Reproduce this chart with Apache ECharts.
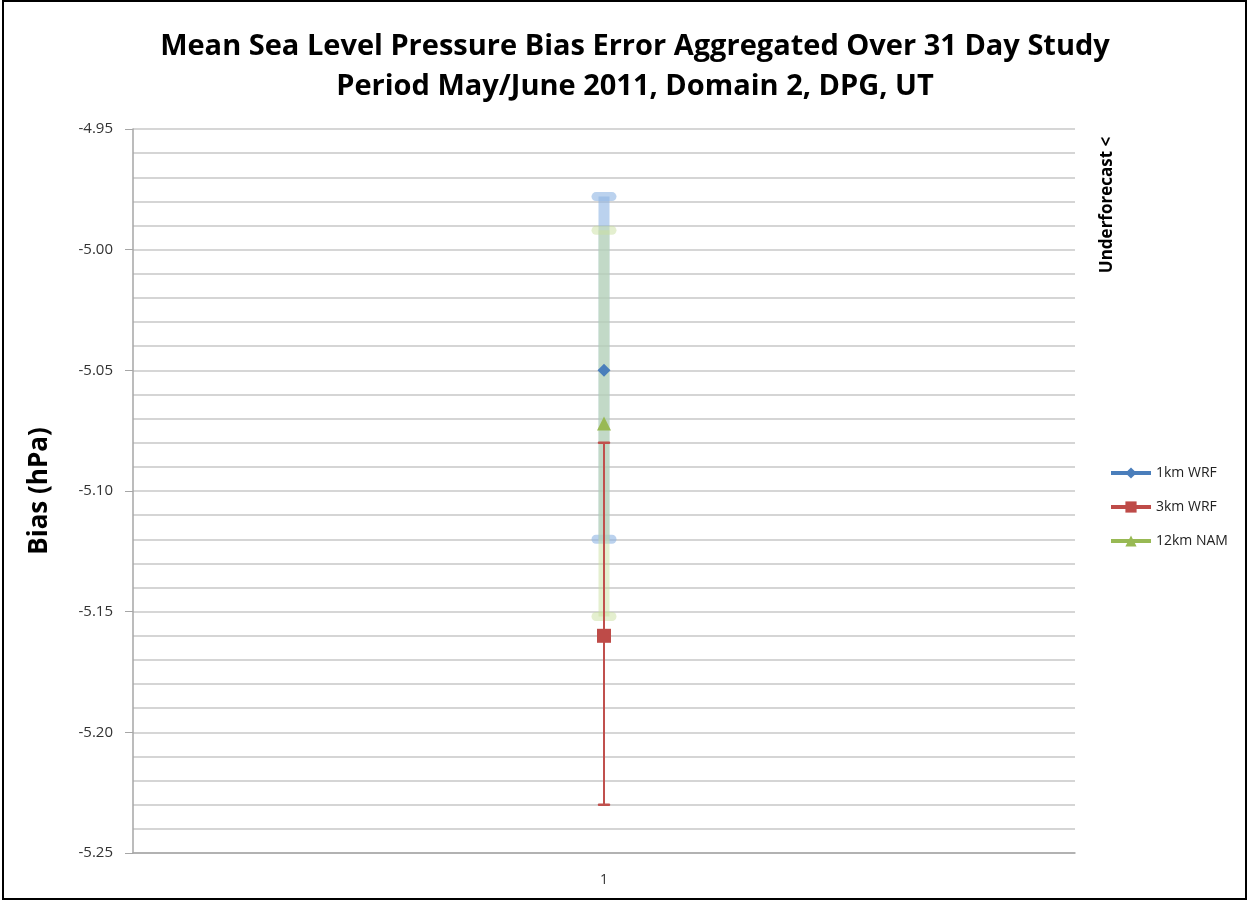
<!DOCTYPE html>
<html>
<head>
<meta charset="utf-8">
<script src="https://cdn.jsdelivr.net/npm/echarts@6/dist/echarts.min.js"></script>
<style>html,body{margin:0;padding:0;background:#fff}#c{width:1249px;height:901px}</style>
</head>
<body>
<div id="c"></div>
<script>
// ---- data ----
var categories = ['1'];
var seriesNames = ['1km WRF', '3km WRF', '12km NAM'];
var values1km = [-5.05];
var values3km = [-5.16];
var values12km = [-5.072];
var errLow = [-5.12, -5.23, -5.152];
var errHigh = [-4.978, -5.08, -4.992];
var yTicks = { min: -5.25, max: -4.95, interval: 0.05 };

var chart = echarts.init(document.getElementById('c'));
var FONT = '"Open Sans", "DejaVu Sans", sans-serif';

function errSeries(idx, color, lineW, capW, capLW, z) {
  return {
    type: 'custom',
    z: z,
    silent: true,
    data: [[0, errLow[idx], errHigh[idx]]],
    renderItem: function (params, api) {
      var x = api.value(0);
      var lo = api.coord([x, api.value(1)]);
      var hi = api.coord([x, api.value(2)]);
      var cx = lo[0];
      return {
        type: 'group',
        children: [
          { type: 'line', shape: { x1: cx, y1: hi[1], x2: cx, y2: lo[1] },
            style: { stroke: color, lineWidth: lineW, lineCap: 'butt' } },
          { type: 'line', shape: { x1: cx - capW / 2, y1: hi[1], x2: cx + capW / 2, y2: hi[1] },
            style: { stroke: color, lineWidth: capLW, lineCap: 'round' } },
          { type: 'line', shape: { x1: cx - capW / 2, y1: lo[1], x2: cx + capW / 2, y2: lo[1] },
            style: { stroke: color, lineWidth: capLW, lineCap: 'round' } }
        ]
      };
    }
  };
}

var option = {
  animation: false,
  backgroundColor: '#fff',
  title: {
    text: 'Mean Sea Level Pressure Bias Error Aggregated Over 31 Day Study\nPeriod May/June 2011, Domain 2, DPG, UT',
    left: 630, top: 22, textAlign: 'center',
    textStyle: { fontFamily: FONT, fontWeight: 'bold', fontSize: 29, lineHeight: 40, color: '#000' }
  },
  legend: {
    data: seriesNames,
    orient: 'vertical',
    left: 1104, top: 461,
    itemWidth: 40, itemHeight: 14, itemGap: 20,
    lineStyle: { width: 4 },
    textStyle: { fontFamily: FONT, fontSize: 14, color: '#222' }
  },
  grid: { left: 133, right: 174, top: 129, bottom: 48, containLabel: false },
  xAxis: {
    type: 'category',
    data: categories,
    axisLine: { lineStyle: { color: '#a6a6a6', width: 1.5 } },
    axisTick: { show: false },
    axisLabel: { fontFamily: FONT, fontSize: 14, color: '#333', margin: 20 }
  },
  yAxis: {
    type: 'value',
    min: yTicks.min, max: yTicks.max, interval: yTicks.interval,
    name: 'Bias (hPa)',
    nameLocation: 'middle', nameGap: 80,
    nameTextStyle: { fontFamily: FONT, fontWeight: 'bold', fontSize: 26, color: '#000' },
    axisLine: { show: true, lineStyle: { color: '#a6a6a6', width: 1.5 } },
    axisTick: { show: true, length: 8, lineStyle: { color: '#a6a6a6' } },
    minorTick: { show: false, splitNumber: 5 },
    minorSplitLine: { show: true, lineStyle: { color: '#c8c8c8', width: 1.5 } },
    splitLine: { show: true, lineStyle: { color: '#c8c8c8', width: 1.5 } },
    axisLabel: { fontFamily: FONT, fontSize: 15, color: '#333', margin: 20,
      formatter: function (v) { return v.toFixed(2); } }
  },
  series: [
    errSeries(0, 'rgba(142,180,227,0.6)', 11, 16, 9, 2),
    errSeries(2, 'rgba(201,223,159,0.5)', 11, 16, 9, 3),
    errSeries(1, '#c0504d', 2, 10, 2.5, 4),
    { name: seriesNames[0], type: 'line', data: values1km, z: 10,
      symbol: 'diamond', symbolSize: 13,
      itemStyle: { color: '#4a7ebb' }, lineStyle: { color: '#4a7ebb', width: 3 } },
    { name: seriesNames[1], type: 'line', data: values3km, z: 10,
      symbol: 'rect', symbolSize: 14,
      itemStyle: { color: '#be4b48' }, lineStyle: { color: '#be4b48', width: 3 } },
    { name: seriesNames[2], type: 'line', data: values12km, z: 10,
      symbol: 'triangle', symbolSize: 14,
      itemStyle: { color: '#98b954' }, lineStyle: { color: '#98b954', width: 3 } }
  ],
  graphic: [
    { type: 'rect', shape: { x: 3, y: 1, width: 1243, height: 898 },
      style: { fill: 'none', stroke: '#000', lineWidth: 2 }, silent: true },
    { type: 'text', x: 1107, y: 205, rotation: Math.PI / 2,
      style: { text: 'Underforecast <', fontFamily: FONT, fontWeight: 'bold', fontSize: 17,
        fill: '#000', align: 'center', verticalAlign: 'middle' } }
  ]
};
chart.setOption(option);
</script>
</body>
</html>
